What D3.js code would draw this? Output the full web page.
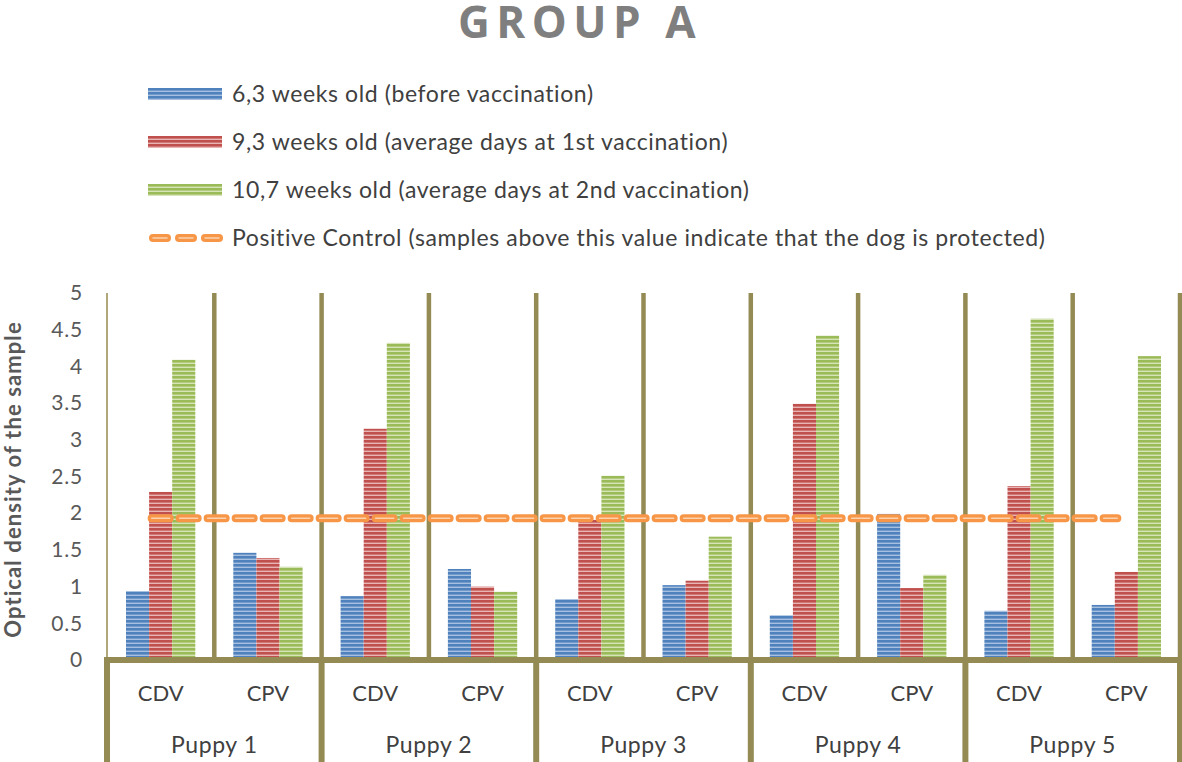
<!DOCTYPE html>
<html><head><meta charset="utf-8">
<script src="https://cdn.jsdelivr.net/npm/d3@7/dist/d3.min.js"></script>
<style>body{margin:0;background:#fff}svg{display:block}</style>
</head><body><svg id="c" width="1182" height="762"></svg>
<script>
const puppies = ["Puppy 1","Puppy 2","Puppy 3","Puppy 4","Puppy 5"];
const tests = ["CDV","CPV"];
const seriesNames = [
  "6,3 weeks old (before vaccination)",
  "9,3 weeks old (average days at 1st vaccination)",
  "10,7 weeks old (average days at 2nd vaccination)"
];
const controlName = "Positive Control (samples above this value indicate that the dog is protected)";
// values per category (Puppy1 CDV, Puppy1 CPV, ... Puppy5 CPV)
const week63  = [0.94,1.46, 0.87,1.24, 0.83,1.02, 0.61,1.99, 0.67,0.75];
const week93  = [2.29,1.39, 3.15,1.00, 1.91,1.08, 3.49,0.98, 2.37,1.20];
const week107 = [4.09,1.27, 4.32,0.93, 2.51,1.68, 4.42,1.16, 4.65,4.14];
const control = [1.93,1.93, 1.93,1.93, 1.93,1.93, 1.93,1.93, 1.93,1.93];
const yTicks = [0,0.5,1,1.5,2,2.5,3,3.5,4,4.5,5];

const svg = d3.select("#c");
const L=107, R=1180, T=293, B=660;
const cats = [];
puppies.forEach(p=>tests.forEach(t=>cats.push(p+"|"+t)));
const series = [week63, week93, week107];
const colors = [["#4f81bd","#a7c0e0"],["#c0504d","#e8b5b4"],["#9bbb59","#d6e4b8"]];
const gridCol = "#948a54";
const FONT = "Lato";

const defs = svg.append("defs");
colors.forEach((c,i)=>{
  const p = defs.append("pattern").attr("id","pat"+i).attr("patternUnits","userSpaceOnUse")
    .attr("width",8).attr("height",4);
  p.append("rect").attr("width",8).attr("height",4).attr("fill",c[1]);
  p.append("rect").attr("width",8).attr("height",2.6).attr("fill",c[0]);
});

const x0 = d3.scaleBand().domain(cats).range([L,R]).padding(0);
const x1 = d3.scaleBand().domain([0,1,2]).range([19, x0.bandwidth()-19]).padding(0);
const y = d3.scaleLinear().domain([0,5]).range([B,T]);
const xp = d3.scaleBand().domain(puppies).range([L,R]);

// title
svg.append("text").attr("x",580).attr("y",38).attr("text-anchor","middle")
  .attr("font-family","Open Sans").attr("font-weight","bold").attr("font-size",44)
  .attr("letter-spacing",6.5).attr("fill","#7f7f7f").text("GROUP A");

// legend
const legY = [94,142,190,238];
seriesNames.forEach((n,i)=>{
  svg.append("rect").attr("x",148).attr("y",legY[i]-6).attr("width",74).attr("height",12)
    .attr("fill","url(#pat"+i+")");
  svg.append("text").attr("x",232).attr("y",legY[i]+8).attr("font-family",FONT)
    .attr("font-size",23).attr("letter-spacing",0.6).attr("fill","#404040").text(n);
});
svg.append("line").attr("x1",153).attr("x2",219).attr("y1",legY[3]).attr("y2",legY[3])
  .attr("stroke","#f79646").attr("stroke-width",8).attr("stroke-linecap","round")
  .attr("stroke-dasharray","14,12");
svg.append("line").attr("x1",153).attr("x2",219).attr("y1",legY[3]).attr("y2",legY[3])
  .attr("stroke","#fbd2b0").attr("stroke-width",1.5).attr("stroke-linecap","round")
  .attr("stroke-dasharray","14,12");
svg.append("text").attr("x",232).attr("y",legY[3]+8).attr("font-family",FONT)
  .attr("font-size",23).attr("letter-spacing",0.6).attr("fill","#404040").text(controlName);

// y axis ticks
const yAxis = d3.axisLeft(y).tickValues(yTicks).tickSize(0).tickPadding(0)
  .tickFormat(d=>String(d));
const ya = svg.append("g").attr("transform",`translate(${L-24},0)`).call(yAxis);
ya.select(".domain").remove();
ya.selectAll("text").attr("font-family",FONT).attr("font-size",21).attr("letter-spacing",0.8)
  .attr("fill","#595959");

svg.append("text").attr("transform",`translate(21,${(T+B)/2+3}) rotate(-90)`)
  .attr("text-anchor","middle").attr("font-family",FONT).attr("font-weight","bold")
  .attr("font-size",22).attr("letter-spacing",1.1).attr("fill","#595959")
  .text("Optical density of the sample");

// gridlines
svg.append("line").attr("x1",L).attr("x2",L).attr("y1",T).attr("y2",B)
  .attr("stroke","#b0a87a").attr("stroke-width",2);
cats.forEach((c,i)=>{
  const xx = x0(c)+x0.bandwidth();
  svg.append("line").attr("x1",xx).attr("x2",xx).attr("y1",T).attr("y2",B)
    .attr("stroke",gridCol).attr("stroke-width",4.5);
});

// bars
series.forEach((s,si)=>{
  svg.append("g").selectAll("rect").data(s).join("rect")
    .attr("x",(d,i)=>x0(cats[i])+x1(si))
    .attr("width",x1.bandwidth())
    .attr("y",d=>y(d))
    .attr("height",d=>B-y(d))
    .attr("fill","url(#pat"+si+")");
});

// control line
const line = d3.line().x((d,i)=>x0(cats[i])+x0.bandwidth()/2).y(d=>y(d));
svg.append("path").datum(control).attr("d",line).attr("fill","none")
  .attr("stroke","#f79646").attr("stroke-width",8).attr("stroke-linecap","round")
  .attr("stroke-dasharray","18,10").attr("transform","translate(-9,0)");
svg.append("path").datum(control).attr("d",line).attr("fill","none")
  .attr("stroke","#fbd2b0").attr("stroke-width",1.5).attr("stroke-linecap","round")
  .attr("stroke-dasharray","18,10").attr("transform","translate(-9,0)");

// x axis & category boxes
svg.append("line").attr("x1",L-3).attr("x2",R+2).attr("y1",B).attr("y2",B)
  .attr("stroke",gridCol).attr("stroke-width",6);
svg.append("line").attr("x1",L).attr("x2",L).attr("y1",B-3).attr("y2",762)
  .attr("stroke",gridCol).attr("stroke-width",6);
puppies.forEach(p=>{
  const xx = xp(p)+xp.bandwidth();
  svg.append("line").attr("x1",xx).attr("x2",xx).attr("y1",B-3).attr("y2",762)
    .attr("stroke",gridCol).attr("stroke-width",6);
  svg.append("text").attr("x",xp(p)+xp.bandwidth()/2).attr("y",753).attr("text-anchor","middle")
    .attr("font-family",FONT).attr("font-size",23).attr("letter-spacing",0.6)
    .attr("fill","#404040").text(p);
});
cats.forEach(c=>{
  svg.append("text").attr("x",x0(c)+x0.bandwidth()/2).attr("y",701).attr("text-anchor","middle")
    .attr("font-family",FONT).attr("font-size",22).attr("fill","#404040").text(c.split("|")[1]);
});
</script></body></html>
